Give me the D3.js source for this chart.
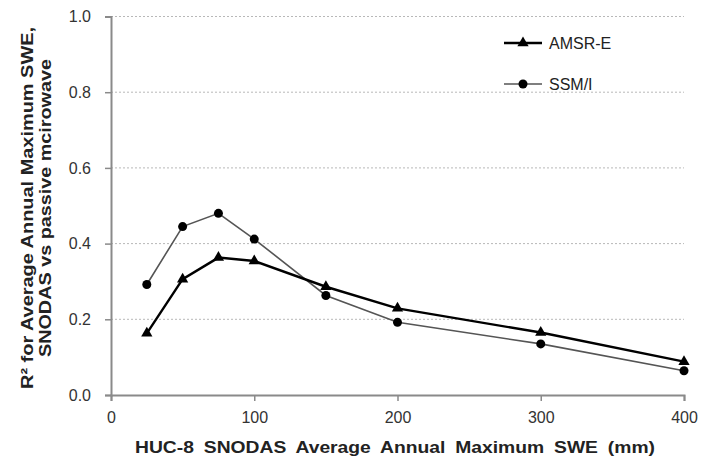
<!DOCTYPE html>
<html>
<head>
<meta charset="utf-8">
<script src="https://cdn.jsdelivr.net/npm/d3@7"></script>
<style>
body { margin: 0; background: #fff; }
text { font-family: Arial, "Liberation Sans", sans-serif; }
</style>
</head>
<body>
<svg id="chart"></svg>
<script>
var width = 702;
var height = 466;

// data
var sweValues = [25, 50, 75, 100, 150, 200, 300, 400];
var amsrValues = [0.163, 0.306, 0.363, 0.354, 0.286, 0.229, 0.165, 0.088];
var ssmiValues = [0.292, 0.445, 0.480, 0.412, 0.263, 0.192, 0.135, 0.064];
var xTicks = [0, 100, 200, 300, 400];
var yTicks = [0, 0.2, 0.4, 0.6, 0.8, 1.0];

var xScale = d3.scaleLinear().domain([0, 400]).range([111, 684]);
var yScale = d3.scaleLinear().domain([0, 1]).range([395, 16.5]);

var svg = d3.select("#chart")
  .attr("width", width)
  .attr("height", height)
  .style("background", "#fff");

// dotted gridlines
svg.append("g").selectAll("line")
  .data(yTicks.filter(function (d) { return d > 0; }))
  .enter().append("line")
  .attr("x1", xScale(0)).attr("x2", xScale(400))
  .attr("y1", function (d) { return yScale(d); })
  .attr("y2", function (d) { return yScale(d); })
  .attr("stroke", "#b8b8b8")
  .attr("stroke-width", 1)
  .attr("stroke-dasharray", "2,2");

// axes
var gx = svg.append("g").attr("transform", "translate(0," + yScale(0) + ")")
  .call(d3.axisBottom(xScale).tickValues(xTicks).tickSize(6).tickPadding(11).tickFormat(d3.format("d")));
var gy = svg.append("g").attr("transform", "translate(" + xScale(0) + ",0)")
  .call(d3.axisLeft(yScale).tickValues(yTicks).tickSize(6).tickPadding(14).tickFormat(d3.format(".1f")));

[gx, gy].forEach(function (g) {
  g.select(".domain").attr("stroke", "#8a8a8a").attr("stroke-width", 2);
  g.selectAll(".tick line").attr("stroke", "#8a8a8a").attr("stroke-width", 1.5);
  g.selectAll(".tick text").attr("fill", "#333").style("font-size", "16px")
    .style("font-family", "Arial, 'Liberation Sans', sans-serif");
});

// series lines
var line = d3.line()
  .x(function (d) { return xScale(d[0]); })
  .y(function (d) { return yScale(d[1]); });

var ssmiData = d3.zip(sweValues, ssmiValues);
var amsrData = d3.zip(sweValues, amsrValues);

svg.append("path").datum(ssmiData)
  .attr("d", line)
  .attr("fill", "none")
  .attr("stroke", "#555")
  .attr("stroke-width", 1.6);

svg.append("path").datum(amsrData)
  .attr("d", line)
  .attr("fill", "none")
  .attr("stroke", "#000")
  .attr("stroke-width", 2.4);

var tri = d3.symbol().type(d3.symbolTriangle).size(55);

svg.append("g").selectAll("circle")
  .data(ssmiData)
  .enter().append("circle")
  .attr("cx", function (d) { return xScale(d[0]); })
  .attr("cy", function (d) { return yScale(d[1]); })
  .attr("r", 4.5)
  .attr("fill", "#000");

svg.append("g").selectAll("path")
  .data(amsrData)
  .enter().append("path")
  .attr("d", tri)
  .attr("transform", function (d) { return "translate(" + xScale(d[0]) + "," + yScale(d[1]) + ")"; })
  .attr("fill", "#000");

// legend
var legend = svg.append("g");
legend.append("line").attr("x1", 504).attr("x2", 542).attr("y1", 43).attr("y2", 43)
  .attr("stroke", "#000").attr("stroke-width", 2.4);
legend.append("path").attr("d", tri).attr("transform", "translate(523,43)").attr("fill", "#000");
legend.append("text").attr("x", 549).attr("y", 49).text("AMSR-E")
  .style("font-size", "16px").attr("fill", "#222");

legend.append("line").attr("x1", 504).attr("x2", 542).attr("y1", 84).attr("y2", 84)
  .attr("stroke", "#555").attr("stroke-width", 1.6);
legend.append("circle").attr("cx", 523).attr("cy", 84).attr("r", 4.5).attr("fill", "#000");
legend.append("text").attr("x", 549).attr("y", 90).text("SSM/I")
  .style("font-size", "16px").attr("fill", "#222");

// axis titles
svg.append("text")
  .attr("x", 395).attr("y", 453)
  .attr("text-anchor", "middle")
  .attr("textLength", 520).attr("lengthAdjust", "spacingAndGlyphs")
  .style("font-size", "17px").style("font-weight", "bold").attr("fill", "#222")
  .style("word-spacing", "4px")
  .text("HUC-8 SNODAS Average Annual Maximum SWE (mm)");

var yTitle = svg.append("text")
  .attr("transform", "translate(0,208) rotate(-90)")
  .attr("text-anchor", "middle")
  .style("font-size", "16px").style("font-weight", "bold").attr("fill", "#222");
yTitle.append("tspan").attr("x", 0).attr("y", 33)
  .attr("textLength", 362).attr("lengthAdjust", "spacingAndGlyphs")
  .text("R\u00b2 for Average Annual Maximum SWE,");
yTitle.append("tspan").attr("x", 0).attr("y", 51)
  .attr("textLength", 298).attr("lengthAdjust", "spacingAndGlyphs")
  .text("SNODAS vs passive mcirowave");
</script>
</body>
</html>
